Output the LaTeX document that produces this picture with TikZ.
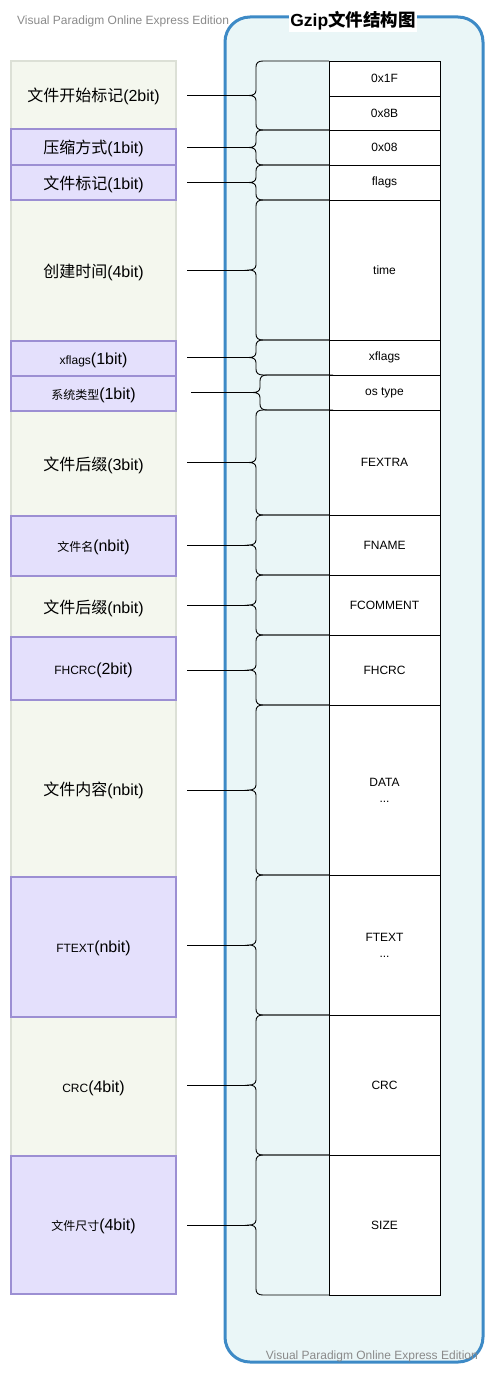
\documentclass[tikz,border=0pt]{standalone}
\usepackage{fontspec}
\setmainfont{Liberation Sans}
\newfontfamily\cjk{Noto Sans CJK SC}
\definecolor{gfill}{HTML}{F4F7EE}
\definecolor{gborder}{HTML}{DCE0D6}
\definecolor{pfill}{HTML}{E4E0FC}
\definecolor{pborder}{HTML}{9C8FD3}
\definecolor{cblue}{HTML}{3D8AC6}
\definecolor{cfill}{HTML}{EAF6F7}
\definecolor{wmark}{HTML}{8A8A8A}
\newcommand\zh[1]{{\cjk #1}}
\newcommand\zs[1]{{\cjk\fontsize{12}{14}\selectfont #1}}
\newcommand\ls[1]{{\fontsize{12}{14}\selectfont #1}}
\newcommand\mklbox[5]{%
  \pgfmathsetmacro\yc{(#3+#4)/2}\pgfmathsetmacro\hh{#4-#3}%
  \node[#2, minimum height=\hh pt] (#1) at (93.5,\yc) {#5};}
\newcommand\mkcell[4]{%
  \pgfmathsetmacro\yc{(#2+#3)/2}\pgfmathsetmacro\hh{#3-#2}%
  \node[cellbox, minimum height=\hh pt] (#1) at (384.5,\yc) {#4};}
\newcommand\mkbrace[4]{%
  \pgfmathsetmacro\mm{(#2+#3)/2}%
  \begin{scope}[xshift=#4pt]
  \draw[bracel] (329,#2) -- (263,#2) .. controls (258,#2) and (256,#2+2) .. (256,#2+6)
     -- (256,\mm-5) .. controls (256,\mm-1.5) and (253,\mm) .. (249,\mm)
     .. controls (253,\mm) and (256,\mm+1.5) .. (256,\mm+5)
     -- (256,#3-6) .. controls (256,#3-2) and (258,#3) .. (263,#3) -- (329,#3);
  \coordinate (#1) at (249,\mm);
  \end{scope}}
\begin{document}
\begin{tikzpicture}[x=1pt,y=-1pt,
  gbox/.style={draw=gborder, fill=gfill, line width=1.5pt, minimum width=165pt, inner sep=0pt, text depth=0pt, font=\fontsize{16}{19}\selectfont},
  pbox/.style={draw=pborder, fill=pfill, line width=1.5pt, minimum width=165pt, inner sep=0pt, text depth=0pt, font=\fontsize{16}{19}\selectfont},
  cellbox/.style={draw=black, fill=white, line width=0.8pt, minimum width=111pt, inner sep=0pt, align=center, font=\fontsize{12}{16}\selectfont},
  bracel/.style={draw=black, line width=0.9pt},
  link/.style={draw=black, line width=1pt},
  frame/.style={draw=cblue, fill=cfill, line width=3pt, rounded corners=25pt, minimum width=258pt, minimum height=1345pt, inner sep=0pt},
  wm/.style={text=wmark, font=\fontsize{12}{14}\selectfont, inner sep=0pt},
  title/.style={fill=white, inner sep=1.5pt, font=\bfseries\fontsize{17.5}{20}\selectfont}]
\useasboundingbox (0,0) rectangle (494,1375);
\node[frame] (frame) at (354,689.5) {};
\node[title] (title) at (353,21) {Gzip\zh{文件结构图}};
\node[wm, anchor=west] (wm1) at (17,21) {Visual Paradigm Online Express Edition};
% left boxes
\mklbox{L1}{gbox}{61}{129}{\zh{文件开始标记}(2bit)}
\mklbox{L4}{gbox}{200}{341}{\zh{创建时间}(4bit)}
\mklbox{L7}{gbox}{411}{516}{\zh{文件后缀}(3bit)}
\mklbox{L9}{gbox}{576}{637}{\zh{文件后缀}(nbit)}
\mklbox{L11}{gbox}{700}{877}{\zh{文件内容}(nbit)}
\mklbox{L13}{gbox}{1017}{1156}{\ls{CRC}(4bit)}
\mklbox{L2}{pbox}{129}{165}{\zh{压缩方式}(1bit)}
\mklbox{L3}{pbox}{165}{200}{\zh{文件标记}(1bit)}
\mklbox{L5}{pbox}{341}{376}{\ls{xflags}(1bit)}
\mklbox{L6}{pbox}{376}{411}{\zs{系统类型}(1bit)}
\mklbox{L8}{pbox}{516}{576}{\zs{文件名}(nbit)}
\mklbox{L10}{pbox}{637}{700}{\ls{FHCRC}(2bit)}
\mklbox{L12}{pbox}{877}{1017}{\ls{FTEXT}(nbit)}
\mklbox{L14}{pbox}{1156}{1294}{\zs{文件尺寸}(4bit)}
% cells
\mkcell{C1}{61}{96}{0x1F}
\mkcell{C2}{96}{130}{0x8B}
\mkcell{C3}{130}{165}{0x08}
\mkcell{C4}{165}{200}{flags}
\mkcell{C5}{200}{340}{time}
\mkcell{C6}{340}{375}{xflags}
\mkcell{C7}{375}{410}{os type}
\mkcell{C8}{410}{515}{FEXTRA}
\mkcell{C9}{515}{575}{FNAME}
\mkcell{C10}{575}{635}{FCOMMENT}
\mkcell{C11}{635}{705}{FHCRC}
\mkcell{C12}{705}{875}{DATA\\...}
\mkcell{C13}{875}{1015}{FTEXT\\...}
\mkcell{C14}{1015}{1155}{CRC}
\mkcell{C15}{1155}{1295}{SIZE}
% braces
\mkbrace{B1}{61}{130}{0}
\mkbrace{B2}{130}{165}{0}
\mkbrace{B3}{165}{200}{0}
\mkbrace{B4}{200}{340}{0}
\mkbrace{B5}{340}{375}{0}
\mkbrace{B6}{375}{410}{4}
\mkbrace{B7}{410}{515}{0}
\mkbrace{B8}{515}{575}{0}
\mkbrace{B9}{575}{635}{0}
\mkbrace{B10}{635}{705}{0}
\mkbrace{B11}{705}{875}{0}
\mkbrace{B12}{875}{1015}{0}
\mkbrace{B13}{1015}{1155}{0}
\mkbrace{B14}{1155}{1295}{0}
% links
\foreach \i in {1,2,3,4,5,7,8,9,10,11,12,13,14}
  \draw[link, shorten >=10pt] (B\i) -- (L\i.east |- B\i);
\draw[link, shorten >=14pt] (B6) -- (L6.east |- B6);
\node[wm, anchor=east] (wm2) at (478,1356) {Visual Paradigm Online Express Edition};
\end{tikzpicture}
\end{document}
